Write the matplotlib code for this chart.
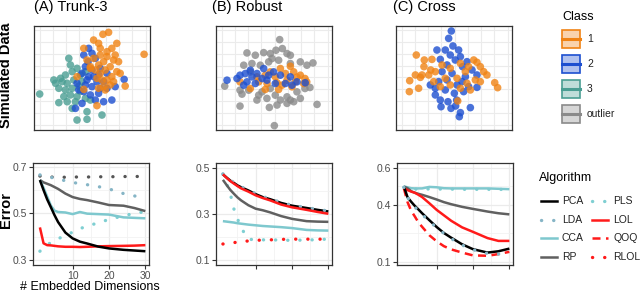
import numpy as np
import matplotlib
matplotlib.use("Agg")
import matplotlib.pyplot as plt
from matplotlib.patches import Rectangle
from matplotlib.lines import Line2D

plt.rcParams['font.family'] = ['Liberation Sans', 'DejaVu Sans']

# ---------------- scatter data (panel coords 0-100) ----------------
trunk_c1 = [(64.3,93.9),(59.4,92.0),(51.4,86.5),(55.7,83.3),(71.4,83.3),(42.9,78.5),(67.1,78.5),
            (94.9,72.8),(57.1,72.1),(62.9,70.5),(51.4,68.9),(68.6,67.3),(60.0,65.7),(72.9,65.7),
            (55.7,62.5),(65.7,60.9),(48.6,59.3),(61.4,57.7),(71.4,56.1),(57.1,54.5),(74.3,54.5),
            (67.1,51.3),(54.3,49.7),(62.9,48.1),(68.6,46.5),(78.6,42.3),(60.0,41.7),(55.7,40.1),
            (42.9,39.1),(61.4,38.5),(37.1,51.3),(54.3,23.4),(48.6,60.9),(45.7,67.3),(62.9,75.3),
            (70.0,72.1),(57.1,78.5),(52.9,57.7),(65.7,43.3),(58.6,48.1)]
trunk_c2 = [(47.1,78.5),(50.0,73.7),(46.6,65.7),(52.9,68.9),(44.3,60.9),(50.0,57.7),(57.1,59.3),
            (41.4,54.5),(47.1,51.3),(54.3,46.5),(62.9,54.5),(60.0,46.5),(77.7,48.7),(37.1,44.9),
            (44.3,43.3),(50.0,41.7),(55.7,35.3),(48.6,33.7),(42.9,36.9),(67.1,28.8),(60.0,27.2),
            (52.9,28.8),(35.7,20.8),(41.4,25.6),(57.1,40.1),(45.7,48.1),(38.6,38.5),(51.4,51.3),
            (62.9,40.1),(70.0,41.7),(55.7,53.2),(42.9,72.1)]
trunk_c3 = [(30.0,68.9),(31.4,62.5),(37.1,59.3),(32.9,56.1),(22.9,49.7),(18.6,44.9),(24.3,46.5),
            (28.6,44.9),(34.3,48.1),(40.0,52.9),(21.4,40.1),(27.1,38.5),(32.9,40.1),(38.6,42.3),
            (4.9,34.6),(25.7,32.1),(31.4,33.7),(37.1,32.1),(21.4,26.3),(28.6,27.2),(35.7,27.2),
            (44.3,30.4),(48.6,28.8),(32.9,20.8),(45.7,17.6),(58.6,14.4),(37.1,9.6),(45.7,10.3),
            (41.4,46.5),(44.3,56.1),(17.1,48.1),(27.1,52.9),(40.0,37.2)]

robust_out = [(54.9,86.9),(26.7,74.1),(33.9,71.9),(41.1,74.4),(46.8,73.5),(51.7,76.7),(57.2,78.3),
              (61.2,73.5),(64.1,71.9),(48.3,68.7),(54.0,67.1),(45.4,65.5),(72.7,65.5),(78.4,62.3),
              (83.6,64.5),(23.9,62.3),(31.0,63.9),(38.2,62.3),(64.1,63.9),(7.5,42.2),(20.7,38.3),
              (22.4,34.5),(28.2,38.3),(36.8,33.5),(39.7,36.7),(35.3,28.8),(43.9,30.4),(51.1,33.5),
              (55.5,28.8),(61.2,31.9),(64.1,28.8),(69.8,36.7),(72.7,30.4),(76.7,39.9),(81.0,40.9),
              (20.7,23.0),(46.0,21.7),(52.6,24.0),(87.1,24.6),(50.3,4.2),(61.2,25.6),(67.0,27.2),
              (46.8,39.9),(29.6,55.9)]
robust_c1 = [(55.5,59.1),(64.1,61.3),(46.8,55.9),(42.5,52.7),(51.1,51.1),(59.8,54.3),(67.0,55.9),
             (72.7,52.7),(76.7,49.5),(78.2,46.3),(68.4,46.3),(61.2,47.9),(52.6,45.4),(44.0,44.7),
             (36.8,46.3),(20.7,46.3),(29.6,39.9),(42.5,39.0),(56.9,43.1),(65.5,41.5),(69.8,50.8),
             (35.3,51.1),(54.0,39.0),(75.6,44.7)]
robust_c2 = [(9.5,47.9),(20.7,52.7),(25.3,54.3),(31.0,51.1),(35.3,54.3),(39.7,49.5),(26.7,46.3),
             (33.9,44.7),(23.9,43.1),(43.9,47.9),(49.7,55.9),(55.5,52.7),(64.1,51.1),(69.8,46.3),
             (76.9,45.4),(59.8,44.7),(65.5,43.1),(41.1,59.1),(29.6,57.5),(18.1,49.5),(51.1,44.7),
             (45.4,52.7)]

cross_c2 = [(47.7,95.2),(45.4,88.1),(49.1,80.8),(35.3,76.9),(42.5,76.9),(54.0,76.9),(46.8,72.1),
            (55.5,70.5),(38.2,67.9),(51.1,67.3),(61.2,65.7),(44.0,62.5),(57.4,60.9),(65.5,57.7),
            (39.7,56.1),(48.3,54.5),(59.8,51.3),(69.8,52.9),(29.6,43.3),(36.8,46.5),(44.0,48.1),
            (52.6,43.3),(62.6,41.7),(69.8,41.0),(33.9,33.7),(42.5,38.5),(50.3,35.3),(58.3,36.9),
            (38.2,28.8),(44.8,27.2),(52.3,28.8),(38.8,22.4),(47.4,20.8),(51.4,23.1),(64.1,21.5),
            (55.5,16.7),(54.6,12.8),(33.9,40.1),(56.9,46.5)]
cross_c1 = [(17.5,72.1),(24.4,67.3),(31.0,67.9),(24.1,60.9),(29.9,57.7),(16.7,52.9),(22.4,52.9),
            (28.2,52.9),(11.8,47.4),(21.0,50.6),(11.5,36.9),(19.5,40.1),(33.9,56.1),(39.7,62.5),
            (46.8,59.3),(55.5,64.1),(62.6,60.9),(69.8,65.1),(72.7,60.9),(75.6,56.1),(78.4,52.9),
            (85.1,45.5),(87.6,40.7),(68.4,48.1),(72.7,46.5),(61.2,44.9),(52.6,49.7),(42.5,49.7),
            (46.8,43.3),(38.2,41.7),(32.5,46.5),(55.5,40.1),(64.1,38.5),(53.2,27.9),(67.0,67.3),
            (59.8,56.1)]

# ---------------- error curves ----------------
dims = [1, 2, 3, 4, 5, 6, 8, 10, 12, 14, 17, 20, 24, 27, 30]

trunk_pca  = [.643,.600,.560,.527,.493,.463,.418,.393,.379,.371,.358,.350,.344,.341,.338]
trunk_lda  = [.665,.662,.660,.655,.650,.647,.640,.633,.627,.623,.615,.605,.585,.575,.562]
trunk_cca  = [.643,.610,.572,.534,.512,.506,.504,.497,.506,.499,.497,.495,.483,.481,.479]
trunk_rp   = [.643,.633,.627,.621,.613,.605,.585,.570,.562,.557,.547,.536,.533,.523,.510]
trunk_pls  = [.338,.352,.365,.375,.385,.392,.404,.420,.435,.445,.460,.474,.490,.500,.508]
trunk_lol  = [.440,.372,.364,.363,.361,.359,.357,.357,.356,.357,.359,.360,.361,.362,.364]
trunk_other = [.660,.657,.656,.656,.655,.655,.655,.656,.656,.656,.657,.657,.658,.658,.659]

robust_pca  = [.472,.458,.445,.435,.424,.416,.402,.386,.373,.364,.348,.336,.326,.318,.311]
robust_lda  = [.474,.460,.447,.437,.426,.418,.404,.388,.375,.366,.350,.338,.328,.320,.313]
robust_cca  = [.269,.267,.265,.263,.260,.258,.254,.251,.248,.246,.243,.239,.231,.229,.228]
robust_rp   = [.448,.426,.405,.388,.372,.359,.338,.323,.316,.307,.291,.279,.269,.267,.266]
robust_pls  = [.472,.433,.390,.323,.280,.240,.191,.188,.188,.187,.188,.185,.188,.188,.192]
robust_lol  = [.472,.457,.443,.432,.421,.411,.397,.381,.369,.359,.341,.329,.318,.309,.301]
robust_rlol = [.170,.172,.173,.176,.178,.181,.183,.186,.187,.188,.190,.191,.191,.191,.191]

cross_pca  = [.499,.442,.418,.396,.377,.357,.320,.284,.252,.227,.192,.166,.148,.155,.169]
cross_lda  = [.495,.440,.415,.390,.370,.350,.315,.280,.250,.222,.188,.163,.143,.140,.155]
cross_cca  = [.499,.495,.490,.489,.489,.489,.497,.495,.490,.489,.489,.489,.489,.487,.485]
cross_rp   = [.499,.490,.474,.466,.460,.455,.443,.430,.416,.405,.391,.380,.366,.357,.351]
cross_pls  = [.495,.488,.486,.485,.485,.485,.486,.486,.485,.485,.484,.484,.484,.484,.483]
cross_lol  = [.489,.480,.472,.466,.455,.443,.410,.375,.346,.317,.282,.258,.225,.210,.210]
cross_qoq  = [.489,.416,.370,.340,.308,.285,.240,.208,.182,.165,.148,.133,.131,.140,.152]

algos = ['PCA', 'LDA', 'CCA', 'RP', 'PLS', 'LOL', 'QOQ', 'RLOL']
class_labels = ['1', '2', '3', 'outlier']

# ---------------- styles ----------------
class_col = {'1': '#f08314', '2': '#1d4fd0', '3': '#4a9e93', 'outlier': '#8a8a8a'}
dot = (0, (0.05, 3.6))
style = {
    'PCA':  dict(color='black', lw=1.8, ls='-'),
    'LDA':  dict(color='#86b5c6', lw=2.4, ls=dot, dash_capstyle='round'),
    'CCA':  dict(color='#7ec8ce', lw=1.8, ls='-'),
    'RP':   dict(color='#606060', lw=1.8, ls='-'),
    'PLS':  dict(color='#7fcfd2', lw=2.4, ls=dot, dash_capstyle='round'),
    'LOL':  dict(color='#ff1a1a', lw=1.8, ls='-'),
    'QOQ':  dict(color='#ff1a1a', lw=1.8, ls=(0, (3.2, 2.2))),
    'RLOL': dict(color='#ff1a1a', lw=2.4, ls=dot, dash_capstyle='round'),
}

W, H = 640, 293
fig = plt.figure(figsize=(W / 100, H / 100), dpi=100)


def px_axes(x0, y0, x1, y1):
    return fig.add_axes([x0 / W, 1 - y1 / H, (x1 - x0) / W, (y1 - y0) / H])


def frame(ax):
    for s in ax.spines.values():
        s.set_color('#333333')
        s.set_linewidth(0.9)


# ---------------- top row: scatter ----------------
scatter_sets = [
    ((34, 26, 150, 130), [('3', trunk_c3), ('2', trunk_c2), ('1', trunk_c1)]),
    ((216, 26, 332, 130), [('outlier', robust_out), ('1', robust_c1), ('2', robust_c2)]),
    ((396, 26, 512, 130), [('2', cross_c2), ('1', cross_c1)]),
]
grid_pos = np.arange(5, 100, 11.4)
for box, groups in scatter_sets:
    ax = px_axes(*box)
    for g in grid_pos:
        ax.axvline(g, color='#ebebeb', lw=0.8, zorder=0)
        ax.axhline(g, color='#ebebeb', lw=0.8, zorder=0)
    for cls, pts in groups:
        p = np.array(pts)
        ax.scatter(p[:, 0], p[:, 1], s=30, color=class_col[cls], alpha=0.8,
                   edgecolors='none', zorder=2)
    ax.set_xlim(0, 100)
    ax.set_ylim(0, 100)
    ax.set_xticks([])
    ax.set_yticks([])
    frame(ax)

titles = [(34, '(A) Trunk-3'), (212, '(B) Robust'), (393, '(C) Cross')]
for x, t in titles:
    fig.text(x / W, 1 - 7.5 / H, t, fontsize=10.5, ha='left', va='center')

# ---------------- bottom row: error curves ----------------
panels = [
    ((33, 163, 149, 265), (0.279, 0.716), [0.3, 0.5, 0.7], [0.4, 0.6],
     [('trunk_other', trunk_other, dict(color='#555555', lw=2.4, ls=dot, dash_capstyle='round')),
      ('LDA', trunk_lda, None), ('PLS', trunk_pls, None), ('RP', trunk_rp, None),
      ('CCA', trunk_cca, None), ('LOL', trunk_lol, None), ('PCA', trunk_pca, None)], True),
    ((216, 163, 332, 265), (0.079, 0.521), [0.1, 0.3, 0.5], [0.2, 0.4],
     [('RLOL', robust_rlol, None), ('PLS', robust_pls, None), ('CCA', robust_cca, None),
      ('RP', robust_rp, None), ('PCA', robust_pca, None), ('LDA', robust_lda, None),
      ('LOL', robust_lol, None)], False),
    ((397, 163, 513, 265), (0.082, 0.624), [0.1, 0.4, 0.6], [0.25, 0.5],
     [('PLS', cross_pls, None), ('CCA', cross_cca, None), ('RP', cross_rp, None),
      ('LOL', cross_lol, None), ('QOQ', cross_qoq, None), ('PCA', cross_pca, None),
      ('LDA', cross_lda, None)], False),
]
for box, ylim, yt, ymin, series, show_x in panels:
    ax = px_axes(*box)
    for v in [5, 15, 25]:
        ax.axvline(v, color='#f2f2f2', lw=0.6, zorder=0)
    for v in [10, 20, 30]:
        ax.axvline(v, color='#ebebeb', lw=0.9, zorder=0)
    for v in ymin:
        ax.axhline(v, color='#f2f2f2', lw=0.6, zorder=0)
    for v in yt:
        ax.axhline(v, color='#ebebeb', lw=0.9, zorder=0)
    for name, ys, st in series:
        kw = st if st is not None else style[name]
        ax.plot(dims, ys, solid_capstyle='butt', zorder=3, **kw)
    ax.set_xlim(-0.9, 31)
    ax.set_ylim(*ylim)
    ax.set_yticks(yt)
    ax.set_yticklabels([f'{v:.1f}' for v in yt])
    ax.set_xticks([10, 20, 30])
    if not show_x:
        ax.set_xticklabels([])
    ax.tick_params(length=3, width=0.8, color='#333333', labelsize=7.5,
                   labelcolor='#4d4d4d', pad=1.5)
    frame(ax)

fig.text(90 / W, 1 - 287 / H, '# Embedded Dimensions', fontsize=9, ha='center', va='center')

# row labels
fig.text(6 / W, 1 - 75 / H, 'Simulated Data', fontsize=10.5, fontweight='bold',
         rotation=90, ha='center', va='center')
fig.text(6 / W, 1 - 210 / H, 'Error', fontsize=10.5, fontweight='bold',
         rotation=90, ha='center', va='center')

# ---------------- legends (drawn in pixel space) ----------------
lax = fig.add_axes([0, 0, 1, 1], facecolor='none')
lax.set_xlim(0, W)
lax.set_ylim(H, 0)
lax.axis('off')

lax.text(562, 17, 'Class', fontsize=9, ha='left', va='center')
for i, lab in enumerate(class_labels):
    yc = 39 + i * 25
    c = class_col[lab]
    lax.add_patch(Rectangle((562, yc - 9), 18, 18, facecolor=c, alpha=0.35, edgecolor='none'))
    lax.add_patch(Rectangle((562, yc - 9), 18, 18, facecolor='none', edgecolor=c, lw=1.2))
    lax.add_line(Line2D([562, 580], [yc, yc], color=c, lw=2.2))
    lax.text(587, yc, lab, fontsize=7.5, ha='left', va='center', color='#222222')

lax.text(539, 178, 'Algorithm', fontsize=9, ha='left', va='center')
for i, name in enumerate(algos):
    col, row = divmod(i, 4)
    yc = 201 + row * 18.7
    x0 = 541 + col * 51
    st = style[name]
    lax.add_line(Line2D([x0, x0 + 16], [yc, yc], **st))
    lax.text(x0 + 21, yc, name, fontsize=7.5, ha='left', va='center', color='#222222')

fig.savefig('out.png', dpi=100)
